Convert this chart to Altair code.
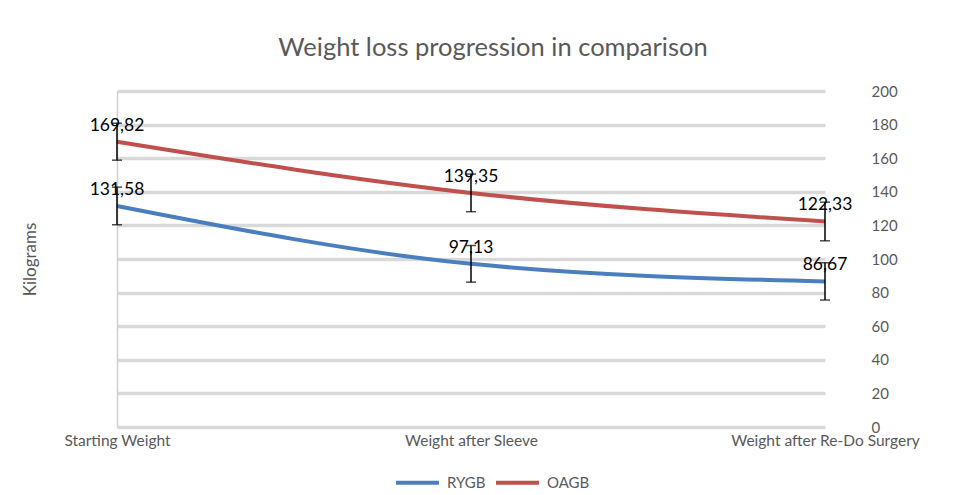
import altair as alt
import pandas as pd

stages = ["Starting Weight", "Weight after Sleeve", "Weight after Re-Do Surgery"]
series = ["RYGB", "OAGB"]
rygb = [131.58, 97.13, 86.67]
oagb = [169.82, 139.35, 122.33]
rygb_err = [11.2, 10.9, 11.1]
oagb_err = [11.0, 11.2, 11.5]
colors = ["#4a7ebf", "#c0504d"]

rows = []
for name, vals, errs in [("RYGB", rygb, rygb_err), ("OAGB", oagb, oagb_err)]:
    for s, v, e in zip(stages, vals, errs):
        rows.append({"stage": s, "series": name, "value": v,
                     "lo": v - e, "hi": v + e,
                     "label": f"{v:.2f}".replace(".", ",")})
df = pd.DataFrame(rows)

FONT = "Lato"
GREY = "#595959"

xaxis = alt.Axis(title=None, labelAngle=0, labelFontSize=15.5, labelColor=GREY,
                 labelFont=FONT, ticks=False, domain=False, labelPadding=6,
                 labelLimit=400, labelOverlap=False)
xscale = alt.Scale(type="point", padding=0)
xenc = alt.X("stage:N", sort=stages, scale=xscale, axis=xaxis)
yscale = alt.Scale(domain=[0, 200])

base = alt.Chart(df)

lines = base.mark_line(strokeWidth=4, interpolate="monotone").encode(
    x=xenc,
    y=alt.Y("value:Q", scale=yscale,
            axis=alt.Axis(orient="right", title=None, values=list(range(0, 201, 20)),
                          grid=True, gridColor="#d9d9d9", gridWidth=3.5,
                          ticks=False, domain=False, labelFontSize=15, labelColor=GREY,
                          labelFont=FONT, labelPadding=46)),
    color=alt.Color("series:N", sort=series,
                    scale=alt.Scale(domain=series, range=colors),
                    legend=alt.Legend(title=None, orient="none", direction="horizontal",
                                      legendX=277, legendY=368, symbolType="stroke",
                                      symbolSize=1849, symbolStrokeWidth=4,
                                      labelFontSize=15, labelColor=GREY, labelFont=FONT,
                                      columnPadding=2, labelOffset=6)),
)

rules = base.mark_rule(color="black", strokeWidth=1.5).encode(
    x=xenc,
    y=alt.Y("lo:Q", scale=yscale,
            axis=alt.Axis(orient="left", title="Kilograms", labels=False, ticks=False,
                          grid=False, domain=True, domainColor="#d0d0d0", domainWidth=1.5,
                          titleFontSize=17, titleColor=GREY, titleFont=FONT,
                          titleFontWeight="normal", titlePadding=78)),
    y2="hi:Q",
)
caps_lo = base.mark_tick(color="black", thickness=1.5, size=10, orient="horizontal").encode(
    x=xenc, y=alt.Y("lo:Q", scale=yscale, axis=None))
caps_hi = base.mark_tick(color="black", thickness=1.5, size=10, orient="horizontal").encode(
    x=xenc, y=alt.Y("hi:Q", scale=yscale, axis=None))

labels = base.mark_text(dy=-16, fontSize=17.5, font=FONT, color="black").encode(
    x=xenc, y=alt.Y("value:Q", scale=yscale, axis=None), text="label:N")

chart = alt.layer(lines, rules, caps_lo, caps_hi, labels).resolve_axis(
    y="independent"
).properties(
    width=708, height=336,
    title=alt.TitleParams("Weight loss progression in comparison", fontSize=25.5,
                          font=FONT, color=GREY, fontWeight="normal", anchor="middle",
                          dx=22, offset=23),
    autosize=alt.AutoSizeParams(type="none"),
    padding={"left": 109, "top": 83, "right": 140, "bottom": 68},
).configure_view(stroke=None)

chart.save("out.html", embed_options={"renderer": "svg", "actions": False})
